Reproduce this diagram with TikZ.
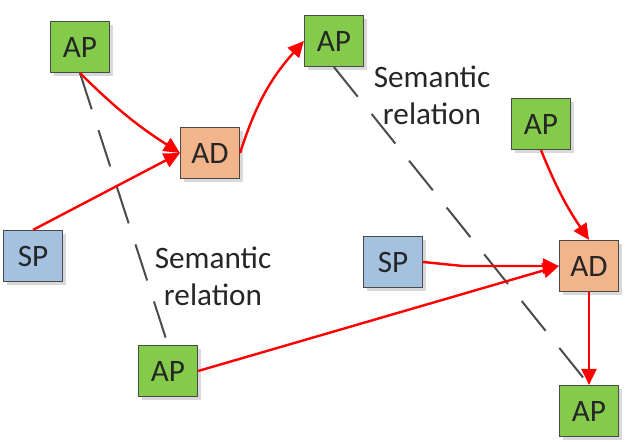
\documentclass[tikz,border=0pt]{standalone}
\usepackage{fontspec}
\setmainfont{Carlito}
\usetikzlibrary{shadows,arrows.meta}

\definecolor{apgreen}{HTML}{84CB4C}
\definecolor{adorange}{HTML}{F2B58B}
\definecolor{spblue}{HTML}{A4C1E0}
\definecolor{boxline}{HTML}{4A4A4A}

\tikzset{
  block/.style={draw=boxline, line width=0.6pt, minimum width=29.5pt,
    minimum height=25.5pt, inner sep=0pt, text=black!85,
    drop shadow={shadow xshift=1.6pt, shadow yshift=-1.6pt, fill=black!25, opacity=0.6}},
  ap/.style={block, fill=apgreen},
  ad/.style={block, fill=adorange},
  sp/.style={block, fill=spblue},
  rel/.style={red, line width=1.2pt, -{Triangle[length=8pt, width=7.5pt]}},
  sem/.style={black!70, line width=1pt, dash pattern=on 19pt off 11pt},
}

\begin{document}
\begin{tikzpicture}[x=0.5pt, y=-0.5pt, font=\fontsize{15.6}{18.5}\selectfont]
  \useasboundingbox (0,0) rectangle (633,441);
  % blocks: name / kind / text / x / y
  \foreach \name/\kind/\txt/\x/\y in {
    ap1/ap/AP/80/47, ad1/ad/AD/210/153, ap2/ap/AP/334/41,
    sp1/sp/SP/33/256, ap3/ap/AP/541/124, sp2/sp/SP/393/262,
    ad2/ad/AD/589/266, ap4/ap/AP/168/371, ap5/ap/AP/589/411} {
    \node[\kind] (\name) at (\x,\y) {\txt};
  }
  % labels
  \node[align=center, text=black!85] (semA) at (432,95) {Semantic\\relation};
  \node[align=center, text=black!85] (semB) at (213,276) {Semantic\\relation};
  % semantic relations
  \draw[sem] (ap1.south) -- (ap4.north);
  \draw[sem] (ap2.south) -- (ap5.north);
  % red arrows
  \coordinate (kink) at (463,266);
  \draw[rel] (ap1.south) to[bend right=6] (ad1.west);
  \draw[rel] (sp1.north) -- (ad1.west);
  \draw[rel] (ad1.east) to[bend left=12] (ap2.west);
  \draw[rel] (ap3.south) to[bend right=6] (ad2.north);
  \draw[rel] (sp2.east) -- (kink) -- (ad2.west);
  \draw[rel] (ap4.east) -- (ad2.west);
  \draw[rel] (ad2.south) -- (ap5.north);
\end{tikzpicture}
\end{document}
